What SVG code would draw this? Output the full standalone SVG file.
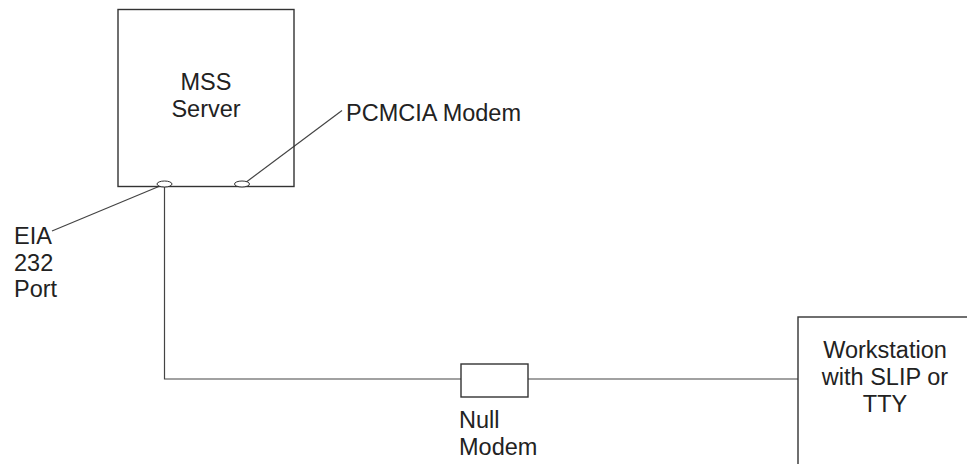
<svg xmlns="http://www.w3.org/2000/svg" width="967" height="464" viewBox="0 0 967 464">
<style>
.box{fill:none;stroke:#333;stroke-width:1.4}
.ln{fill:none;stroke:#444;stroke-width:1.2}
.port{fill:#fff;stroke:#333;stroke-width:1}
text{font-family:"Liberation Sans",Arial,sans-serif;font-size:23.5px;fill:#222}
</style>
<rect width="967" height="464" fill="#fff"/>
<g id="connectors">
<polyline class="ln" points="164.5,187 164.5,379 461,379"/>
<line class="ln" x1="528" y1="379" x2="798" y2="379"/>
<line class="ln" x1="52" y1="231" x2="160" y2="186"/>
<line class="ln" x1="342" y1="110.5" x2="245" y2="183"/>
</g>
<g id="mss-server">
<rect class="box" x="118" y="9.5" width="176" height="177"/>
<text x="206" y="90" text-anchor="middle">MSS</text>
<text x="206" y="117" text-anchor="middle">Server</text>
</g>
<g id="eia-port">
<ellipse class="port" cx="164.5" cy="184" rx="7.5" ry="3"/>
<text x="14" y="244">EIA</text>
<text x="14" y="271">232</text>
<text x="14" y="297">Port</text>
</g>
<g id="pcmcia-modem">
<ellipse class="port" cx="242" cy="184" rx="7.5" ry="3"/>
<text x="346" y="121">PCMCIA Modem</text>
</g>
<g id="null-modem">
<rect class="box" x="461" y="364" width="67" height="33"/>
<text x="459" y="428">Null</text>
<text x="459" y="455">Modem</text>
</g>
<g id="workstation">
<rect class="box" x="798" y="317" width="200" height="200"/>
<text x="885" y="358" text-anchor="middle">Workstation</text>
<text x="885" y="385" text-anchor="middle">with SLIP or</text>
<text x="885" y="412" text-anchor="middle">TTY</text>
</g>
</svg>
